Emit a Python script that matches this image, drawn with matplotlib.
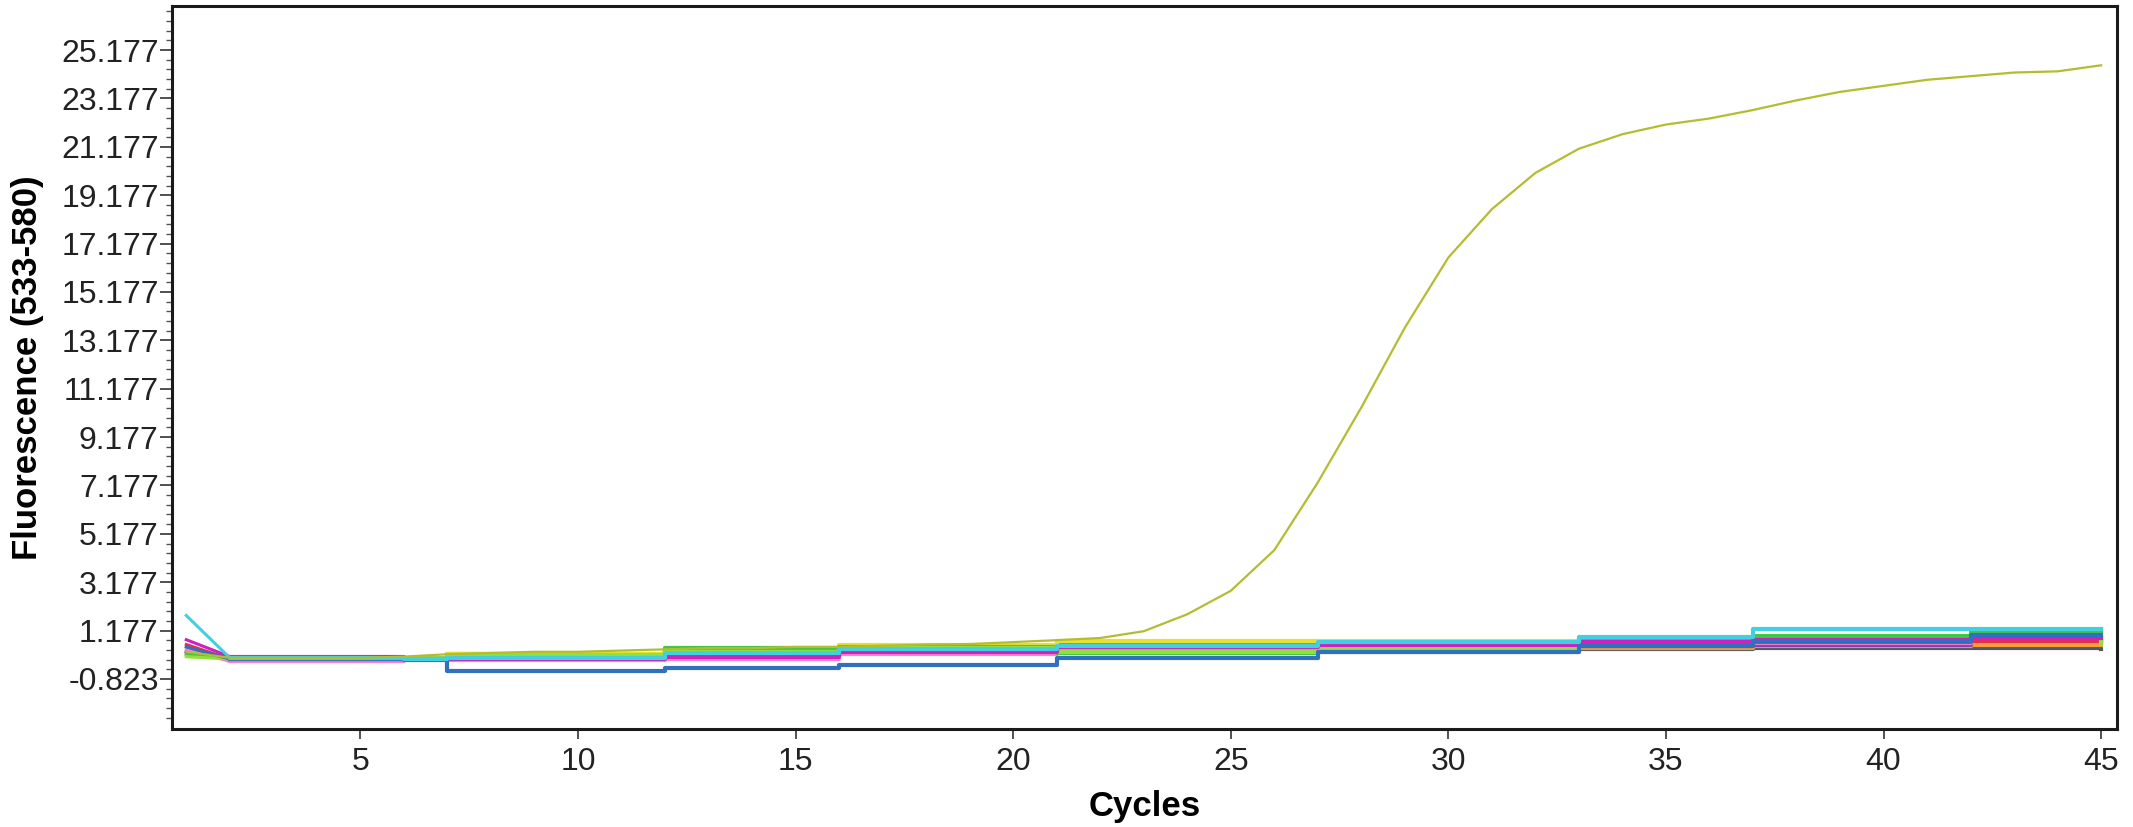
import matplotlib
matplotlib.use("Agg")
import matplotlib.pyplot as plt
from matplotlib.ticker import FixedLocator

# amplification curve (the one positive sample)
CYCLES = list(range(1, 46))
POSITIVE = [0.30, 0.05, 0.05, 0.05, 0.05, 0.10, 0.20, 0.25, 0.30, 0.30,
            0.35, 0.40, 0.45, 0.45, 0.50, 0.50, 0.55, 0.60, 0.62, 0.70,
            0.78, 0.87, 1.15, 1.85, 2.82, 4.50, 7.30, 10.40, 13.70, 16.60,
            18.60, 20.10, 21.10, 21.70, 22.10, 22.35, 22.70, 23.10, 23.45, 23.70,
            23.95, 24.10, 24.25, 24.30, 24.55]

# negative samples, read at step breakpoints
BREAKS = [1, 2, 6, 7, 12, 16, 21, 27, 33, 37, 42, 45]
NEG_CYAN    = [1.80, 0.05, 0.00, 0.05, 0.25, 0.40, 0.55, 0.70, 0.90, 1.23, 1.23, 1.25]
NEG_BLUE    = [0.50, 0.00, -0.05, -0.50, -0.37, -0.25, 0.04, 0.30, 0.55, 0.75, 1.00, 1.00]
NEG_MAGENTA = [0.80, 0.10, 0.00, 0.00, 0.10, 0.30, 0.50, 0.60, 0.70, 0.80, 0.85, 0.85]
NEG_GREEN   = [0.20, 0.00, 0.00, 0.10, 0.45, 0.50, 0.25, 0.35, 0.80, 0.95, 1.10, 1.20]
NEG_YELLOW  = [0.10, 0.05, 0.05, 0.20, 0.45, 0.60, 0.75, 0.75, 0.80, 0.90, 1.00, 1.05]
NEG_RED     = [0.60, 0.00, 0.00, 0.15, 0.35, 0.45, 0.55, 0.55, 0.60, 0.70, 0.75, 0.75]
NEG_PINK    = [0.40, -0.10, 0.00, -0.05, 0.00, 0.20, 0.45, 0.55, 0.60, 0.65, 0.70, 0.70]
NEG_PURPLE  = [0.30, 0.00, 0.00, 0.05, 0.05, 0.25, 0.40, 0.50, 0.55, 0.60, 0.80, 0.80]
NEG_OLIVE   = [0.20, 0.00, 0.00, 0.20, 0.35, 0.50, 0.60, 0.40, 0.60, 0.75, 0.85, 0.90]
NEG_ORANGE  = [0.50, 0.05, 0.00, 0.10, 0.20, 0.35, 0.40, 0.30, 0.45, 0.55, 0.60, 0.60]
NEG_DARK    = [0.30, 0.00, 0.00, 0.00, 0.15, 0.30, 0.35, 0.40, 0.40, 0.45, 0.45, 0.40]
NEG_LIME    = [0.10, 0.00, 0.05, 0.15, 0.30, 0.45, 0.30, 0.45, 0.65, 0.80, 0.95, 0.62]

NEGATIVES = [
    (NEG_DARK, "#505868"), (NEG_ORANGE, "#f0a030"), (NEG_OLIVE, "#a89040"),
    (NEG_PURPLE, "#8040b0"), (NEG_PINK, "#ff80d0"), (NEG_RED, "#e03050"),
    (NEG_YELLOW, "#e8e030"), (NEG_GREEN, "#40c840"), (NEG_LIME, "#90e040"),
    (NEG_MAGENTA, "#d020c0"), (NEG_BLUE, "#3070c0"), (NEG_CYAN, "#40d0e0"),
]

Y_TICKS = [-0.823, 1.177, 3.177, 5.177, 7.177, 9.177, 11.177, 13.177,
           15.177, 17.177, 19.177, 21.177, 23.177, 25.177]
X_TICKS = [5, 10, 15, 20, 25, 30, 35, 40, 45]

FONT = ["Liberation Sans", "DejaVu Sans"]

fig = plt.figure(figsize=(21.33, 8.27), dpi=100)
ax = fig.add_axes([0.0806, 0.118, 0.912, 0.8747])

for vals, col in NEGATIVES:
    ax.plot(BREAKS[:2], vals[:2], color=col, linewidth=2.2)
    ax.plot(BREAKS[1:], vals[1:], color=col, linewidth=3.0, drawstyle="steps-post")

ax.plot(CYCLES, POSITIVE, color="#b4bc30", linewidth=1.6)

ax.set_xlim(0.67, 45.37)
ax.set_ylim(-2.91, 27.0)

ax.xaxis.set_major_locator(FixedLocator(X_TICKS))
ax.yaxis.set_major_locator(FixedLocator(Y_TICKS))
ax.yaxis.set_minor_locator(FixedLocator(
    [-0.823 + 0.4 * i for i in range(-5, 70) if (i % 5) != 0]))
ax.set_yticklabels([f"{t:.3f}" for t in Y_TICKS])
ax.set_xticklabels([str(t) for t in X_TICKS])

for lab in ax.get_xticklabels() + ax.get_yticklabels():
    lab.set_family(FONT)
    lab.set_fontsize(23)
    lab.set_color("#222222")

ax.tick_params(axis="both", which="major", direction="out", length=8.5, width=1.2,
               color="#333333")
ax.tick_params(axis="y", which="major", pad=1)
ax.tick_params(axis="x", which="major", length=7, pad=6)
ax.tick_params(axis="y", which="minor", direction="out", length=4.3, width=1.0,
               color="#555555")

for spine in ax.spines.values():
    spine.set_linewidth(2.2)
    spine.set_color("#1a1a1a")

ax.set_xlabel("Cycles", family=FONT, fontsize=25, fontweight="bold")
ax.set_ylabel("Fluorescence (533-580)", family=FONT, fontsize=25, fontweight="bold")
ax.xaxis.set_label_coords(0.5, -0.107)
ax.xaxis.label.set_va("center")
ax.yaxis.set_label_coords(-0.074, 0.5)
ax.yaxis.label.set_va("center")

fig.savefig("out.png", dpi=100, facecolor="white")
